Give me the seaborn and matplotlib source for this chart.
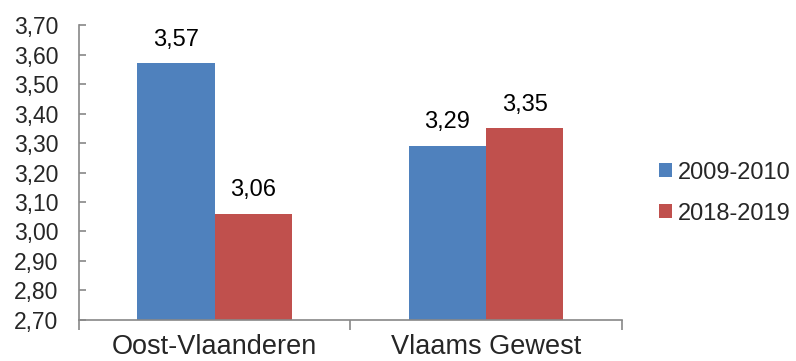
import matplotlib
matplotlib.use("Agg")
import matplotlib.pyplot as plt
import seaborn as sns
import pandas as pd
from matplotlib.ticker import FuncFormatter, MultipleLocator

categories = ["Oost-Vlaanderen", "Vlaams Gewest"]
series = ["2009-2010", "2018-2019"]
values_2009 = [3.57, 3.29]
values_2018 = [3.06, 3.35]
colors = ["#4F81BD", "#C0504D"]

df = pd.DataFrame({
    "regio": categories * 2,
    "periode": [series[0]] * 2 + [series[1]] * 2,
    "waarde": values_2009 + values_2018,
})

sns.set_style("white")
plt.rcParams["font.family"] = ["Liberation Sans", "DejaVu Sans"]

fig = plt.figure(figsize=(7.96, 3.61), dpi=100)
ax = fig.add_axes([0.0992, 0.1136, 0.6818, 0.8171])

sns.barplot(data=df, x="regio", y="waarde", hue="periode", palette=colors,
            width=0.57, ax=ax, saturation=1, edgecolor="none", linewidth=0)

ax.set_ylim(2.70, 3.70)
ax.set_xlim(-0.5, 1.5)
ax.yaxis.set_major_locator(MultipleLocator(0.1))
ax.yaxis.set_major_formatter(FuncFormatter(lambda v, p: f"{v:.2f}".replace(".", ",")))
ax.set_xlabel("")
ax.set_ylabel("")

for c in ax.containers:
    ax.bar_label(c, labels=[f"{v:.2f}".replace(".", ",") for v in c.datavalues],
                 padding=9, fontsize=17, color="black")

for s in ["top", "right"]:
    ax.spines[s].set_visible(False)
for s in ["left", "bottom"]:
    ax.spines[s].set_color("#888888")
    ax.spines[s].set_linewidth(1.2)

ax.tick_params(axis="y", direction="in", length=5, width=1.2, color="#888888",
               labelsize=16.5, pad=15, left=True)
ax.set_xticks([0, 1])
ax.set_xticklabels(categories, fontsize=19.5)
ax.tick_params(axis="x", length=0, pad=10)
# category boundary tick marks
ax.set_xticks([-0.5, 0.5, 1.5], minor=True)
ax.tick_params(axis="x", which="minor", direction="out", length=7, width=1.2,
               color="#888888", bottom=True)

leg = ax.legend(loc="center left", bbox_to_anchor=(1.051, 0.43), frameon=False,
                fontsize=17, handlelength=0.55, handleheight=0.55, handletextpad=0.25,
                labelspacing=0.8, borderaxespad=0)

fig.savefig("out.png", dpi=100)
